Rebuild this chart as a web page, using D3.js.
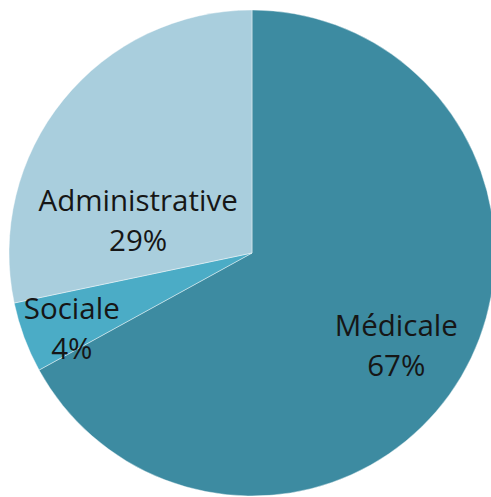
<!DOCTYPE html>
<html>
<head>
<meta charset="utf-8">
<script src="https://cdn.jsdelivr.net/npm/d3@7"></script>
<style>
  html, body { margin: 0; padding: 0; background: #fff; }
  #canvas { width: 491px; height: 497px; }
  text { font-variant-ligatures: none; }
</style>
</head>
<body>
<div id="canvas"></div>
<script>
// data
const categories = ["Médicale", "Sociale", "Administrative"];
const values = [67, 4.7, 28.3];
const pctLabels = ["67%", "4%", "29%"];
const colors = ["#3d8ba1", "#4bacc6", "#a9cedd"];
// where each label sits: angle (deg, clockwise from top) and distance as share of radius
const labelAngles = [122, 248, 287];
const labelDist = [0.70, 0.80, 0.49];

const dims = { width: 491, height: 497, radius: 243 };
const center = { x: 252, y: 253 };

const color = d3.scaleOrdinal().domain(categories).range(colors);

const svg = d3
  .select("#canvas")
  .append("svg")
  .attr("width", dims.width)
  .attr("height", dims.height);

const graph = svg
  .append("g")
  .attr("transform", `translate(${center.x}, ${center.y})`);

const rows = categories.map((c, i) => ({
  cat: c,
  value: values[i],
  pct: pctLabels[i],
  ang: labelAngles[i],
  dist: labelDist[i]
}));

const pieGen = d3
  .pie()
  .sort(null)
  .value(d => d.value);

const arcGen = d3
  .arc()
  .innerRadius(0)
  .outerRadius(dims.radius);

const slices = pieGen(rows);

graph
  .selectAll("path")
  .data(slices)
  .enter()
  .append("path")
  .attr("d", arcGen)
  .attr("fill", d => color(d.data.cat))
  .attr("stroke", "#ffffff")
  .attr("stroke-width", 0.6)
  .attr("stroke-opacity", 0.7);

// labels
const labels = graph
  .selectAll("text.lbl")
  .data(slices)
  .enter()
  .append("text")
  .attr("class", "lbl")
  .attr("text-anchor", "middle")
  .attr("font-family", "'Open Sans', sans-serif")
  .attr("font-size", "29.5px")
  .attr("fill", "#161616")
  .attr("transform", d => {
    const a = (d.data.ang * Math.PI) / 180;
    const r = d.data.dist * dims.radius;
    return `translate(${r * Math.sin(a)}, ${-r * Math.cos(a)})`;
  });

labels
  .append("tspan")
  .attr("x", 0)
  .attr("y", -7)
  .text(d => d.data.cat);

labels
  .append("tspan")
  .attr("x", 0)
  .attr("y", 33)
  .text(d => d.data.pct);
</script>
</body>
</html>
